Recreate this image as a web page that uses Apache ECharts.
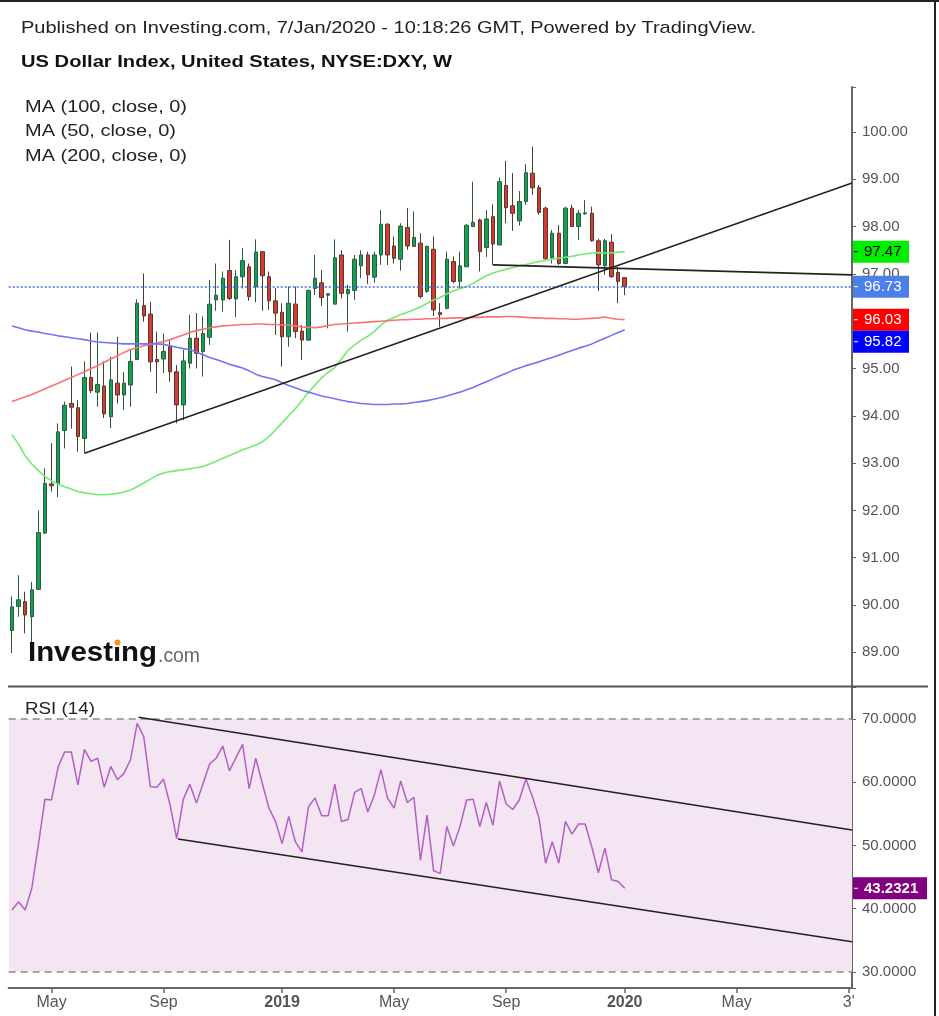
<!DOCTYPE html>
<html>
<head>
<meta charset="utf-8">
<script src="https://cdn.jsdelivr.net/npm/echarts@6.0.0/dist/echarts.min.js"></script>
<style>
html,body{margin:0;padding:0;background:#fff;}
#chart{width:939px;height:1016px;}
</style>
</head>
<body>
<div id="chart"></div>
<script>
// ---------------- DATA ----------------
const FIRST_WEEK_UTC = [2018, 2, 26];   // Mon 26 Mar 2018, weekly bars
const N_WEEKS = 128;                     // incl. empty future weeks up to the right edge

const xTickIdx  = [6, 23, 41, 58, 75, 93, 110, 127];
const xTickText = ['May', 'Sep', '2019', 'May', 'Sep', '2020', 'May', "3'"];
const xTickBold = [false, false, true, false, false, true, false, false];

const open = [89.46,89.97,90.07,89.75,90.33,91.52,92.56,92.56,93.69,94.26,
94.17,93.52,94.81,94.50,94.63,93.98,94.69,94.44,94.65,95.19,
96.33,96.15,95.19,95.20,95.46,94.93,94.23,95.11,95.64,95.36,
95.66,96.45,96.45,97.07,96.47,96.94,97.15,96.73,97.47,96.94,
96.43,96.19,95.67,96.36,95.79,95.60,96.69,96.81,96.55,96.36,
97.40,96.58,96.65,97.17,97.40,96.93,97.40,98.05,97.59,97.31,
97.98,97.58,97.65,96.63,97.52,96.18,96.27,97.26,96.84,97.15,
98.00,98.14,97.56,98.21,97.61,98.87,98.44,98.12,98.53,99.13,
98.82,98.39,97.34,97.86,97.22,98.39,98.00,98.27,98.28,97.70,
97.17,97.67,97.03,96.92];
const close = [89.96,90.11,89.79,90.32,91.53,92.57,92.52,93.66,94.22,94.18,
93.56,94.81,94.53,94.66,94.04,94.76,94.44,94.69,95.15,96.38,
96.11,95.14,95.14,95.36,94.93,94.23,95.16,95.64,95.32,95.74,
96.36,96.55,96.91,96.48,96.94,97.28,96.52,97.46,96.96,96.43,
96.17,95.67,96.38,95.78,95.60,96.65,96.91,96.50,96.58,97.34,
96.59,96.67,97.31,97.40,96.98,97.40,98.05,97.40,97.33,98.01,
97.59,97.77,96.52,97.58,96.24,96.14,97.31,96.84,97.17,98.03,
98.09,97.47,98.16,97.63,98.95,98.40,98.28,98.53,99.14,98.82,
98.30,97.32,97.86,97.22,98.39,98.00,98.28,98.29,97.70,97.19,
97.70,96.94,96.84,96.73];
const low = [88.98,89.75,89.40,89.19,90.33,91.50,92.40,92.28,93.31,93.73,
93.24,93.21,94.48,94.19,93.95,93.74,94.26,94.12,94.19,95.19,
95.99,94.93,94.48,94.90,94.72,93.84,93.91,95.00,95.00,94.83,
95.50,96.22,96.20,96.45,96.08,96.69,96.43,96.40,96.22,96.24,
95.71,95.04,95.46,95.64,95.18,95.58,96.55,96.32,95.85,96.36,
96.48,95.78,96.45,96.91,96.79,96.81,97.19,97.19,97.22,97.07,
97.51,97.58,96.48,96.60,96.11,95.88,96.25,96.80,96.69,97.15,
98.00,97.05,97.36,97.19,97.61,98.07,97.91,98.02,98.46,98.67,
98.25,97.27,97.22,97.19,97.20,98.00,97.72,98.25,97.68,96.64,
96.98,96.92,96.38,96.55];
const high = [90.18,90.63,90.28,90.49,92.00,92.89,93.42,93.84,94.30,95.04,
94.33,95.15,95.76,95.76,95.15,95.25,95.67,94.93,95.39,96.46,
97.01,96.41,95.78,95.74,95.60,95.07,95.39,96.13,96.17,96.10,
96.87,97.22,97.05,97.72,97.08,97.55,97.22,97.73,97.48,97.05,
96.70,96.38,96.73,96.73,95.92,96.67,97.40,97.08,96.59,97.73,
97.50,96.77,97.40,97.50,97.47,97.47,98.35,98.07,97.79,98.07,
98.39,98.32,97.86,97.60,97.79,96.38,97.47,97.37,97.47,98.05,
98.95,98.17,98.35,98.47,99.04,99.39,99.13,98.75,99.32,99.69,
98.88,98.42,97.93,98.03,98.42,98.46,98.35,98.56,98.42,97.74,
97.74,97.84,97.15,96.92];

const ma50 = [93.60,93.40,93.15,92.98,92.84,92.72,92.63,92.55,92.50,92.45,
92.40,92.37,92.35,92.33,92.33,92.34,92.36,92.39,92.43,92.50,
92.58,92.66,92.74,92.79,92.82,92.84,92.86,92.88,92.90,92.93,
92.98,93.04,93.10,93.16,93.22,93.28,93.33,93.38,93.45,93.56,
93.70,93.85,94.00,94.15,94.32,94.50,94.65,94.80,94.92,95.02,
95.20,95.38,95.50,95.60,95.68,95.78,95.92,96.02,96.08,96.14,
96.19,96.24,96.30,96.38,96.45,96.50,96.58,96.64,96.69,96.73,
96.80,96.88,96.96,97.02,97.06,97.10,97.13,97.17,97.20,97.23,
97.26,97.29,97.31,97.33,97.35,97.37,97.40,97.42,97.44,97.45,
97.44,97.44,97.46,97.47];
const ma100 = [94.30,94.35,94.40,94.45,94.51,94.57,94.63,94.69,94.75,94.81,
94.87,94.93,95.00,95.06,95.13,95.20,95.27,95.34,95.40,95.44,
95.48,95.51,95.54,95.57,95.61,95.66,95.71,95.76,95.80,95.83,
95.86,95.88,95.90,95.91,95.92,95.93,95.93,95.94,95.94,95.93,
95.93,95.92,95.92,95.90,95.88,95.87,95.86,95.88,95.91,95.93,
95.94,95.95,95.96,95.97,95.98,95.99,96.00,96.01,96.02,96.03,
96.03,96.04,96.04,96.05,96.05,96.06,96.06,96.07,96.07,96.07,
96.08,96.08,96.09,96.09,96.09,96.10,96.10,96.09,96.08,96.07,
96.07,96.06,96.06,96.05,96.05,96.04,96.04,96.05,96.06,96.07,
96.09,96.06,96.04,96.03];
const ma200 = [95.90,95.86,95.82,95.79,95.77,95.74,95.72,95.69,95.67,95.65,
95.63,95.61,95.58,95.56,95.55,95.54,95.53,95.52,95.52,95.52,
95.52,95.52,95.52,95.51,95.48,95.45,95.42,95.40,95.35,95.29,
95.23,95.19,95.14,95.09,95.05,95.01,94.95,94.88,94.83,94.80,
94.76,94.70,94.64,94.59,94.54,94.50,94.46,94.42,94.39,94.36,
94.33,94.30,94.28,94.26,94.25,94.24,94.24,94.24,94.25,94.25,
94.26,94.28,94.30,94.32,94.35,94.38,94.42,94.46,94.50,94.55,
94.60,94.66,94.72,94.78,94.84,94.90,94.96,95.01,95.06,95.10,
95.14,95.19,95.23,95.28,95.33,95.38,95.43,95.47,95.52,95.58,
95.64,95.70,95.76,95.82];

const rsi14 = [39.8,41.1,39.8,43.2,50.1,57.3,57.2,62.4,64.8,64.8,
59.6,65.2,63.3,63.8,59.2,62.5,60.4,61.4,63.6,69.3,
67.2,59.3,59.2,60.5,56.4,51.1,57.3,59.7,56.7,59.8,
62.9,63.8,65.7,61.8,63.9,66.0,59.0,63.8,59.8,55.9,
53.8,50.3,54.6,50.6,49.0,56.1,57.5,54.7,54.7,59.7,
53.8,54.1,58.4,59.0,55.3,58.0,62.0,57.5,55.9,60.2,
56.8,57.6,47.7,54.8,46.0,45.6,53.0,49.9,53.0,57.2,
57.3,53.0,56.8,53.2,60.2,56.6,55.7,57.2,60.5,57.7,
54.3,47.2,50.6,47.2,53.8,51.8,53.4,53.4,49.8,45.7,
49.6,44.6,44.3,43.2321];

// analyst trend lines: [bar index, value] end points
const priceSupportLine = [[11, 93.21], [127.5, 98.92]];
const priceNeckLine    = [[73, 97.19], [127.5, 96.98]];
const rsiUpperLine     = [[19.2, 70.27], [127.5, 52.45]];
const rsiLowerLine     = [[25.2, 51.03], [127.5, 34.79]];

const rsiBands = [30, 70];

// ---------------- BUILD ----------------
const weeks = [];
for (let k = 0; k < N_WEEKS; k++) {
  const d = new Date(Date.UTC(FIRST_WEEK_UTC[0], FIRST_WEEK_UTC[1], FIRST_WEEK_UTC[2] + 7 * k));
  weeks.push(d.toISOString().slice(0, 10));
}
const candles = open.map((o, i) => [o, close[i], low[i], high[i]]);
const xy = arr => arr.map((v, i) => [i, v]);
const tickSet = new Set(xTickIdx);

const FONT = '"Liberation Sans", Arial, sans-serif';
const PRICE_MIN = 88.287, PRICE_MAX = 100.951;
const RSI_MIN = 27.47, RSI_MAX = 75.06;
const GL = 8.7, GR = 87;

const chart = echarts.init(document.getElementById('chart'), null, {renderer: 'canvas'});

const lineSeries = (name, data, xi, yi, color, width, z) => ({
  name, type: 'line', xAxisIndex: xi, yAxisIndex: yi, data,
  showSymbol: false, symbol: 'none', silent: true, animation: false, z: z || 3,
  lineStyle: {color, width}
});

const yAxisBase = {
  type: 'value', position: 'right', scale: true,
  axisLine: {show: true, onZero: false, lineStyle: {color: '#666', width: 2}},
  axisTick: {show: true, length: 4, lineStyle: {color: '#666', width: 1}},
  splitLine: {show: false}
};

const option = {
  animation: false,
  backgroundColor: '#ffffff',
  grid: [
    {left: GL, right: GR, top: 87, height: 599, outerBoundsMode: 'none', containLabel: false},
    {left: GL, right: GR, top: 687, height: 301, outerBoundsMode: 'none', containLabel: false}
  ],
  xAxis: [
    {type: 'category', gridIndex: 0, data: weeks, boundaryGap: true, show: false, position: 'bottom'},
    {type: 'value', gridIndex: 0, min: -0.5, max: N_WEEKS - 0.5, show: false, position: 'top',
      axisLine: {onZero: false}},
    {type: 'category', gridIndex: 1, data: weeks, boundaryGap: true, position: 'bottom',
      axisLine: {show: true, onZero: false, lineStyle: {color: '#666', width: 2}},
      axisTick: {show: true, interval: (i) => tickSet.has(i), alignWithLabel: true, length: 5,
        lineStyle: {color: '#666', width: 1.5}},
      axisLabel: {show: true, interval: (i) => tickSet.has(i), color: '#555', fontSize: 16,
        fontFamily: FONT, margin: 7,
        formatter: (v, i) => {
          const k = xTickIdx.indexOf(i);
          if (k < 0) return '';
          return xTickBold[k] ? '{b|' + xTickText[k] + '}' : xTickText[k];
        },
        rich: {b: {fontWeight: 'bold', fontSize: 16, color: '#555', fontFamily: FONT}}},
      splitLine: {show: false}},
    {type: 'value', gridIndex: 1, min: -0.5, max: N_WEEKS - 0.5, show: false, position: 'top',
      axisLine: {onZero: false}}
  ],
  yAxis: [
    Object.assign({}, yAxisBase, {gridIndex: 0, min: PRICE_MIN, max: PRICE_MAX,
      splitNumber: 12, minInterval: 1, maxInterval: 1,
      axisLabel: {color: '#555', fontSize: 15, fontFamily: FONT, margin: 10,
        formatter: v => Math.abs(v - Math.round(v)) < 1e-6 ? v.toFixed(2) : ''}}),
    Object.assign({}, yAxisBase, {gridIndex: 1, min: RSI_MIN, max: RSI_MAX,
      splitNumber: 5, minInterval: 10, maxInterval: 10,
      axisLabel: {color: '#555', fontSize: 15, fontFamily: FONT, margin: 10,
        formatter: v => Math.abs(v / 10 - Math.round(v / 10)) < 1e-6 ? v.toFixed(4) : ''}})
  ],
  series: [
    {name: 'DXY', type: 'candlestick', xAxisIndex: 0, yAxisIndex: 0, data: candles,
      barWidth: 4, silent: true, z: 2,
      itemStyle: {color: '#12a056', color0: '#d83b2e', borderColor: '#2e5b3c', borderColor0: '#4f3a30', borderWidth: 1},
      markLine: {symbol: 'none', silent: true, label: {show: false}, animation: false,
        lineStyle: {color: '#3d6be6', type: [2, 2], width: 1.5},
        data: [{yAxis: close[close.length - 1]}]}},
    lineSeries('MA 50', xy(ma50), 1, 0, '#72ea72', 1.6, 4),
    lineSeries('MA 100', xy(ma100), 1, 0, '#f87474', 1.6, 4),
    lineSeries('MA 200', xy(ma200), 1, 0, '#7474f2', 1.6, 4),
    lineSeries('support', priceSupportLine, 1, 0, '#222', 1.6, 5),
    lineSeries('neckline', priceNeckLine, 1, 0, '#222', 1.6, 5),
    Object.assign(lineSeries('RSI', xy(rsi14), 3, 1, '#b260c4', 1.5, 4), {
      markArea: {silent: true, itemStyle: {color: '#f3e5f2'},
        data: [[{yAxis: rsiBands[0]}, {yAxis: rsiBands[1]}]]},
      markLine: {symbol: 'none', silent: true, label: {show: false},
        lineStyle: {color: '#8a8a8a', type: [7, 5], width: 1.5},
        data: rsiBands.map(b => ({yAxis: b}))}
    }),
    lineSeries('RSI upper', rsiUpperLine, 3, 1, '#222', 1.6, 5),
    lineSeries('RSI lower', rsiLowerLine, 3, 1, '#222', 1.6, 5)
  ]
};
chart.setOption(option);

// ---------------- OVERLAYS (texts, value boxes) ----------------
const ctx = document.createElement('canvas').getContext('2d');
function measure(text, size, weight) {
  ctx.font = (weight || 'normal') + ' ' + size + 'px ' + FONT;
  return ctx.measureText(text).width;
}
function fitText(text, x, y, size, weight, width, color) {
  const s = width / measure(text, size, weight);
  return {type: 'text', x, y, scaleX: s, scaleY: 1, z: 50,
    style: {text, fill: color, fontSize: size, fontWeight: weight || 'normal', fontFamily: FONT,
      align: 'left', verticalAlign: 'middle'}};
}

const g = [];
const pubText = 'Published on Investing.com, 7/Jan/2020 - 10:18:26 GMT, Powered by TradingView.';
const titleText = 'US Dollar Index, United States, NYSE:DXY, W';
g.push(fitText(pubText, 21, 28, 17, 'normal', 735, '#222'));
g.push(fitText(titleText, 21, 62, 17, 'bold', 431, '#111'));

const legend = ['MA (100, close, 0)', 'MA (50, close, 0)', 'MA (200, close, 0)'];
const legScale = 162 / measure(legend[0], 16);
legend.forEach((t, k) => {
  g.push({type: 'text', x: 25, y: [108, 132, 157][k], scaleX: legScale, z: 50,
    style: {text: t, fill: '#222', fontSize: 16, fontFamily: FONT, align: 'left', verticalAlign: 'middle'}});
});
g.push(fitText('RSI (14)', 25, 710, 16, 'normal', 70, '#222'));

// logo
const logoScale = 129 / measure('Investing', 28, 'bold');
g.push({type: 'text', x: 28, y: 653, scaleX: logoScale, z: 50,
  style: {text: 'Investing', fill: '#111', fontSize: 28, fontWeight: 'bold', fontFamily: FONT, align: 'left', verticalAlign: 'middle'}});
g.push(fitText('.com', 158, 656, 21, 'normal', 42, '#666'));
const iX = 28 + (measure('Invest', 28, 'bold') + measure('i', 28, 'bold') / 2) * logoScale;
g.push({type: 'rect', z: 51, shape: {x: iX - 3.5, y: 638, width: 7, height: 9}, style: {fill: '#fff'}});
g.push({type: 'circle', z: 52, shape: {cx: iX + 0.5, cy: 642.5, r: 3}, style: {fill: '#f7941d'}});

// separators / frame
g.push({type: 'line', z: 40, shape: {x1: 8, y1: 686.5, x2: 928, y2: 686.5}, style: {stroke: '#555', lineWidth: 2}});
g.push({type: 'line', z: 40, shape: {x1: 0, y1: 1, x2: 939, y2: 1}, style: {stroke: '#222', lineWidth: 2}});
g.push({type: 'line', z: 40, shape: {x1: 935, y1: 0, x2: 935, y2: 1016}, style: {stroke: '#222', lineWidth: 2}});

// value boxes on the right scale
const axisX = chart.convertToPixel({xAxisIndex: 1}, N_WEEKS - 0.5);
function valueBoxes(list, yAxisIndex, width, decimals) {
  let prevBottom = -Infinity;
  list.slice().sort((a, b) => b.v - a.v).forEach(b => {
    const cy = chart.convertToPixel({yAxisIndex}, b.v);
    let top = cy - 11;
    if (top < prevBottom) top = prevBottom;
    prevBottom = top + 22;
    g.push({type: 'rect', z: 60, shape: {x: axisX + 1, y: top, width, height: 22}, style: {fill: b.bg}});
    g.push({type: 'line', z: 61, shape: {x1: axisX + 2, y1: top + 11, x2: axisX + 6, y2: top + 11}, style: {stroke: b.fg, lineWidth: 1}});
    g.push({type: 'text', z: 61, x: axisX + 12, y: top + 11.5,
      style: {text: b.v.toFixed(decimals), fill: b.fg, fontSize: 15, fontWeight: b.bold ? 'bold' : 'normal',
        fontFamily: FONT, align: 'left', verticalAlign: 'middle'}});
  });
}
valueBoxes([
  {v: ma50[ma50.length - 1], bg: '#00ee00', fg: '#000'},
  {v: close[close.length - 1], bg: '#4c7fe8', fg: '#fff'},
  {v: ma100[ma100.length - 1], bg: '#ff0000', fg: '#fff'},
  {v: ma200[ma200.length - 1], bg: '#0000ff', fg: '#fff'}
], 0, 56, 2);
valueBoxes([{v: rsi14[rsi14.length - 1], bg: '#800080', fg: '#fff', bold: true}], 1, 74, 4);

chart.setOption({graphic: g});
</script>
</body>
</html>
